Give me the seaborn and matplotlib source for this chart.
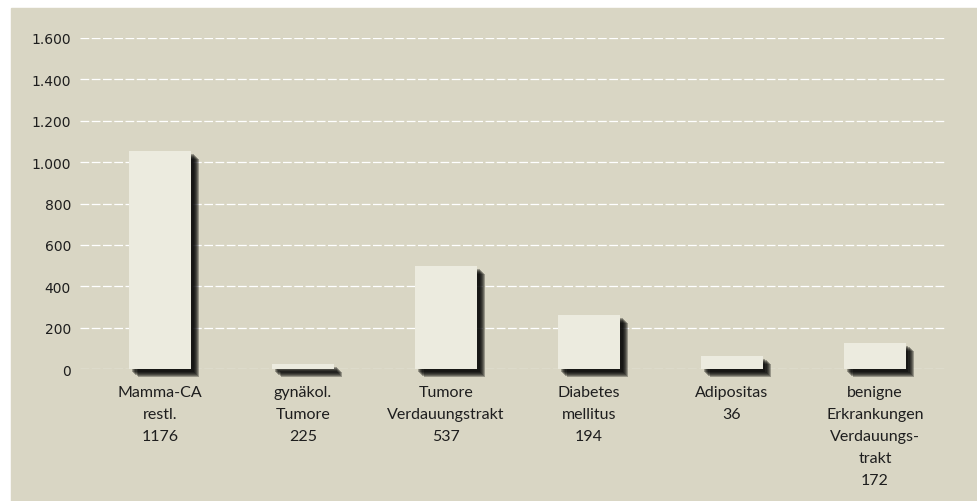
"""Balkendiagramm: Fallzahlen nach Diagnosegruppe."""
import matplotlib
matplotlib.use("Agg")
import matplotlib.pyplot as plt
import matplotlib.patheffects as pe
import pandas as pd
import seaborn as sns
from matplotlib.patches import Rectangle
from matplotlib.ticker import FuncFormatter

# Daten
kategorien = [
    "Mamma-CA\nrestl.",
    "gynäkol.\nTumore",
    "Tumore\nVerdauungstrakt",
    "Diabetes\nmellitus",
    "Adipositas",
    "benigne\nErkrankungen\nVerdauungs-\ntrakt",
]
fallzahlen = [1176, 225, 537, 194, 36, 172]
balkenwerte = [1053, 24, 499, 261, 64, 126]
y_ticks = [0, 200, 400, 600, 800, 1000, 1200, 1400, 1600]

HINTERGRUND = "#d9d6c4"
BALKEN = "#ecebdf"
TEXT = "#1e1e1e"

sns.set_theme(style="white")
plt.rcParams["font.family"] = ["Lato", "DejaVu Sans"]

df = pd.DataFrame({
    "kategorie": [f"{k}\n{z}" for k, z in zip(kategorien, fallzahlen)],
    "wert": balkenwerte,
})

fig = plt.figure(figsize=(9.77, 5.02), dpi=100)
fig.patch.set_facecolor("white")
fig.add_artist(Rectangle((11 / 977, 0), 1 - 11 / 977, 1 - 9 / 502,
                         transform=fig.transFigure, color=HINTERGRUND, zorder=-10))

ax = fig.add_axes([80 / 977, (502 - 370) / 502, 865 / 977, (370 - 39) / 502])
ax.patch.set_alpha(0)

sns.barplot(data=df, x="kategorie", y="wert", color=BALKEN, saturation=1,
            width=0.43, linewidth=0, ax=ax, zorder=3)

# weicher Schlagschatten
schatten = [pe.SimplePatchShadow(offset=(d, -d), shadow_rgbFace="black", alpha=0.3)
            for d in (2.0, 2.8, 3.6, 4.4, 5.2, 6.0)]
for p in ax.patches:
    p.set_path_effects(schatten + [pe.Normal()])
    p.set_clip_on(False)

ax.set_xlim(-0.56, 5.49)
ax.set_ylim(0, 1600)
ax.set_yticks(y_ticks)
ax.yaxis.set_major_formatter(FuncFormatter(lambda v, _: f"{int(v):,}".replace(",", ".")))
ax.set_axisbelow(True)
ax.yaxis.grid(True, color="white", linewidth=0.9, linestyle=(0, (7, 2)))
ax.xaxis.grid(False)
for s in ax.spines.values():
    s.set_visible(False)

ax.tick_params(axis="y", length=0, pad=6.5, labelsize=10, labelcolor=TEXT)
ax.tick_params(axis="x", length=0, pad=11.5, labelsize=11.5, labelcolor=TEXT)
for t in ax.get_yticklabels():
    t.set_fontfamily(["DejaVu Sans"])
for t in ax.get_xticklabels():
    t.set_linespacing(1.72)
ax.set_xlabel("")
ax.set_ylabel("")

fig.savefig("out.png", dpi=100, facecolor=fig.get_facecolor())
